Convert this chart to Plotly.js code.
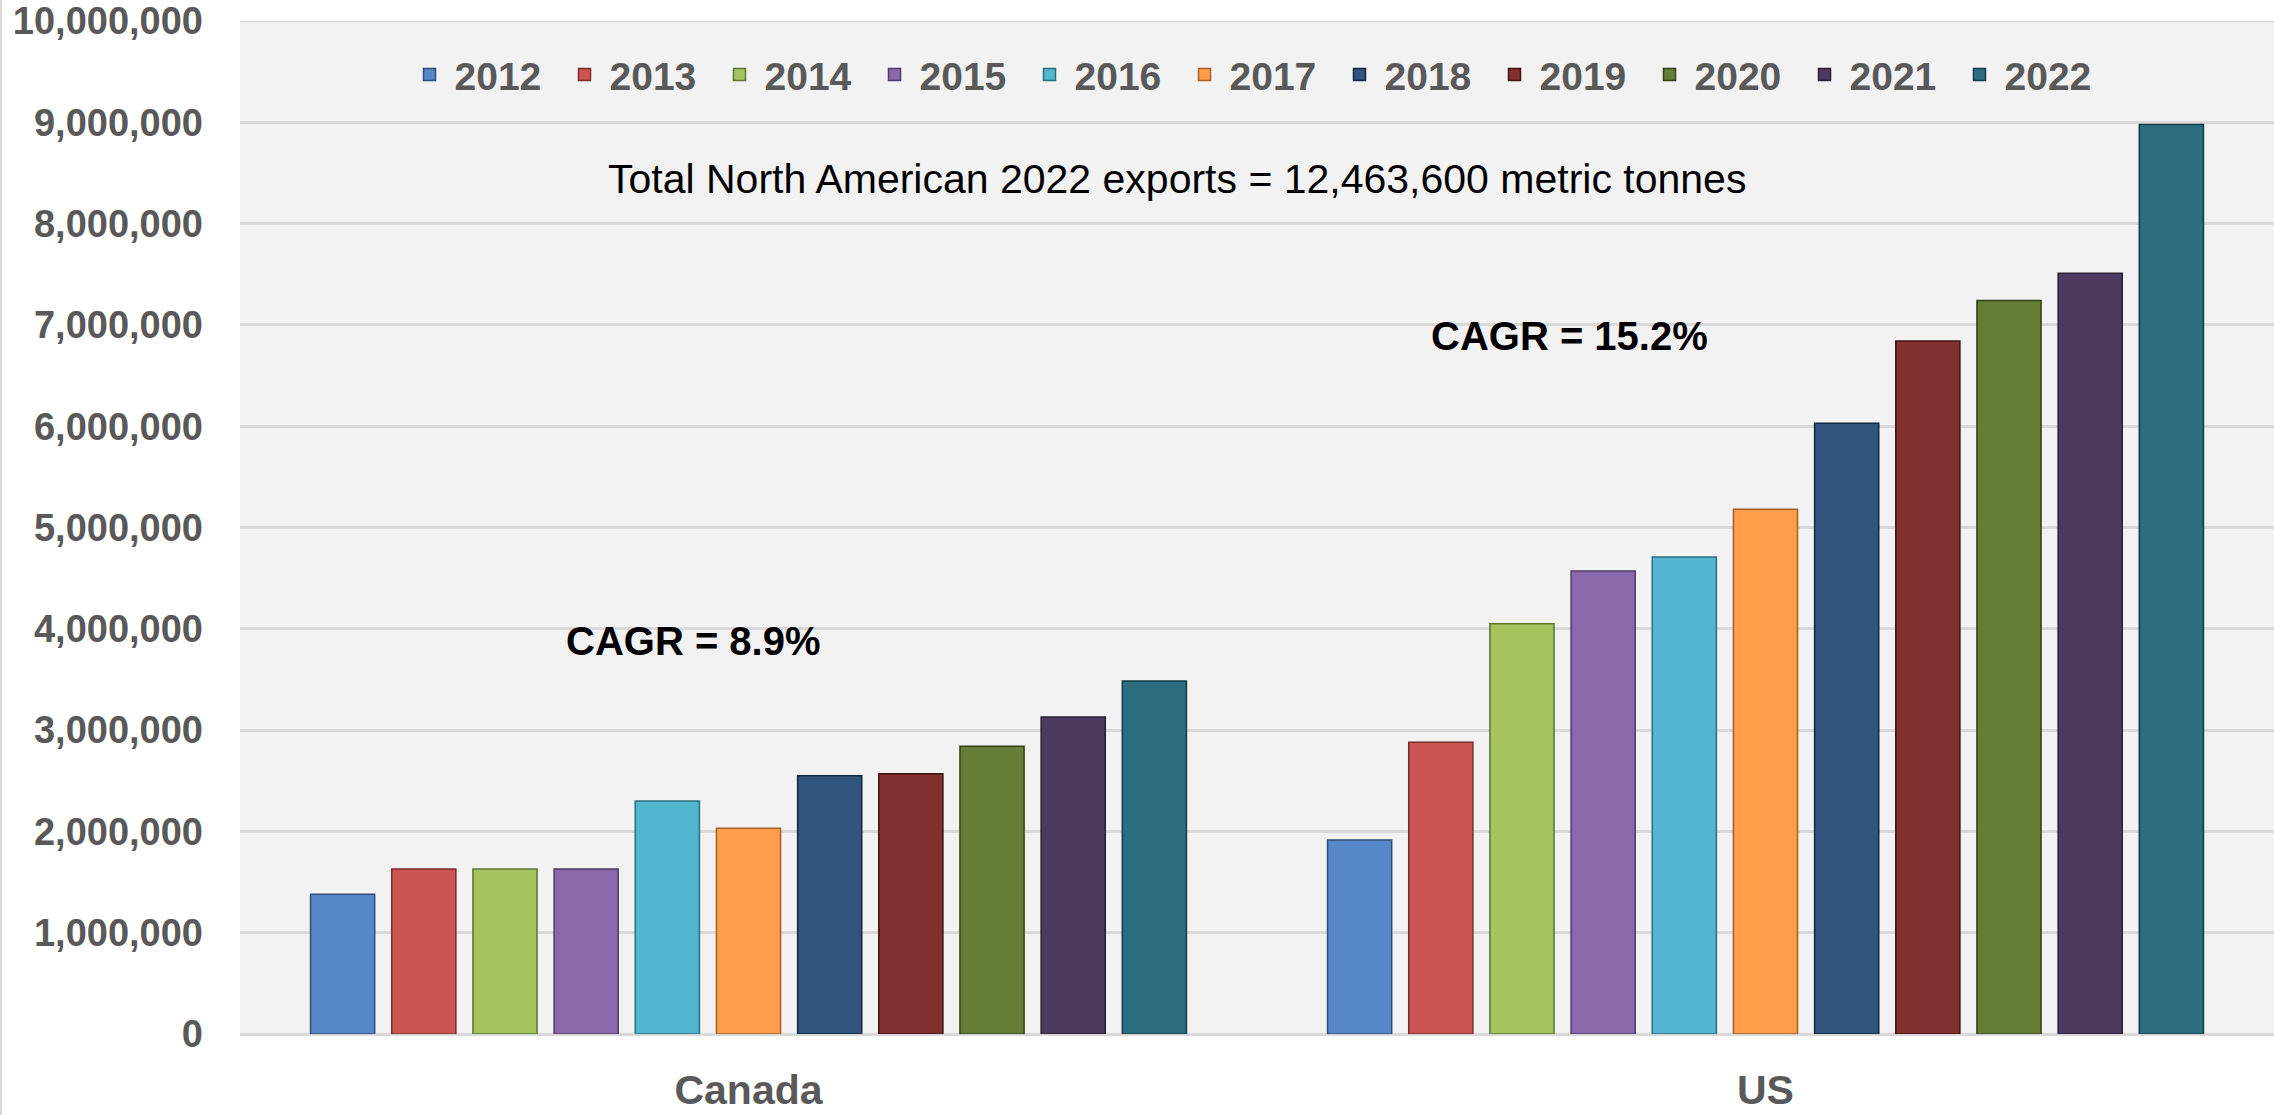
<!DOCTYPE html>
<html>
<head>
<meta charset="utf-8">
<script src="https://cdn.plot.ly/plotly-3.0.1.min.js"></script>
<style>
  html, body { margin: 0; padding: 0; background: #ffffff; }
  #chart { width: 2274px; height: 1115px; }
</style>
</head>
<body>
<div id="chart"></div>
<script>
// ---- Data (metric tonnes) ----
const categories = ['Canada', 'US'];
const years = ['2012', '2013', '2014', '2015', '2016', '2017', '2018', '2019', '2020', '2021', '2022'];
const canadaValues = [1380000, 1630000, 1630000, 1630000, 2300000, 2030000, 2550000, 2570000, 2840000, 3130000, 3485000];
const usValues = [1915000, 2880000, 4050000, 4570000, 4710000, 5180000, 6030000, 6840000, 7240000, 7510000, 8978600];
const yTickValues = [0, 1000000, 2000000, 3000000, 4000000, 5000000, 6000000, 7000000, 8000000, 9000000, 10000000];
const yTickLabels = ['0', '1,000,000', '2,000,000', '3,000,000', '4,000,000', '5,000,000', '6,000,000', '7,000,000', '8,000,000', '9,000,000', '10,000,000'];
const yMax = 10000000;

// ---- Styles ----
const colors = ['#5687C9', '#CC5452', '#A5C45F', '#8969A9', '#52B6D0', '#FF9D48', '#31547F', '#812F2F', '#667D36', '#4C3A5F', '#2A6E80'];
const edgeColors = ['#2E4E78', '#7A2E2C', '#5E7633', '#4E3B66', '#2B6F80', '#A3602A', '#16283F', '#3E1414', '#33401A', '#2A2036', '#123A45'];

const traces = years.map((yr, i) => ({
  type: 'bar',
  name: yr,
  x: categories,
  y: [canadaValues[i], usValues[i]],
  marker: { color: colors[i], line: { color: edgeColors[i], width: 1.5 } },
  hoverinfo: 'skip'
}));

const FONT = '"Liberation Sans", Arial, sans-serif';

const layout = {
  width: 2274,
  height: 1115,
  margin: { l: 240, r: 0, t: 21, b: 81, pad: 0 },
  paper_bgcolor: '#ffffff',
  plot_bgcolor: '#f2f2f2',
  barmode: 'group',
  bargap: 0.122,
  bargroupgap: 0.21,
  showlegend: true,
  legend: {
    orientation: 'h',
    x: 0.5, xanchor: 'center',
    y: 0.947, yanchor: 'middle',
    bgcolor: 'rgba(0,0,0,0)',
    font: { family: FONT, size: 39, color: '#595959', weight: 'bold' },
    traceorder: 'normal',
    itemwidth: 40,
    entrywidth: 100,
    entrywidthmode: 'pixels'
  },
  xaxis: {
    type: 'category',
    tickfont: { family: FONT, size: 41, color: '#595959', weight: 'bold' },
    ticks: '',
    showline: false,
    showgrid: false,
    zeroline: false,
    ticklabelstandoff: 28,
    fixedrange: true
  },
  yaxis: {
    range: [0, yMax],
    tickvals: yTickValues,
    ticktext: yTickLabels,
    tickfont: { family: FONT, size: 38, color: '#595959', weight: 'bold' },
    ticks: '',
    showgrid: true,
    gridcolor: '#d9d9d9',
    gridwidth: 3,
    zeroline: true,
    zerolinecolor: '#d9d9d9',
    zerolinewidth: 3,
    showline: false,
    ticklabelstandoff: 36,
    ticklabeloverflow: 'allow',
    fixedrange: true
  },
  annotations: [
    {
      xref: 'x', yref: 'y', x: 0.4216, y: 8440000,
      text: 'Total North American 2022 exports = 12,463,600 metric tonnes',
      showarrow: false, xanchor: 'center', yanchor: 'middle',
      font: { family: FONT, size: 41, color: '#000000' }
    },
    {
      xref: 'x', yref: 'y', x: 0.807, y: 6890000,
      text: 'CAGR = 15.2%',
      showarrow: false, xanchor: 'center', yanchor: 'middle',
      font: { family: FONT, size: 40, color: '#000000', weight: 'bold' }
    },
    {
      xref: 'x', yref: 'y', x: -0.054, y: 3880000,
      text: 'CAGR = 8.9%',
      showarrow: false, xanchor: 'center', yanchor: 'middle',
      font: { family: FONT, size: 40, color: '#000000', weight: 'bold' }
    }
  ],
  shapes: [
    {
      type: 'line', xref: 'paper', yref: 'y',
      x0: 0, x1: 1, y0: yMax, y1: yMax,
      line: { color: '#d9d9d9', width: 3 }, layer: 'below'
    },
    {
      type: 'line', xref: 'paper', yref: 'paper',
      x0: -0.1175, x1: -0.1175, y0: -0.08, y1: 1.021,
      line: { color: '#d9d9d9', width: 2 }
    }
  ]
};

Plotly.newPlot('chart', traces, layout, { displayModeBar: false, staticPlot: true, responsive: false });
</script>
</body>
</html>
